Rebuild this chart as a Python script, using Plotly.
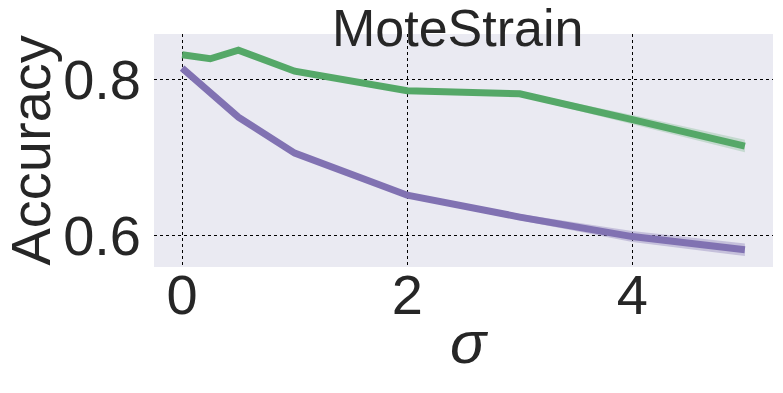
import plotly.graph_objects as go

sigma = [0, 0.25, 0.5, 1, 2, 3, 4, 5]
acc_green = [0.831, 0.826, 0.837, 0.810, 0.785, 0.781, 0.748, 0.714]
std_green = [0.002, 0.002, 0.002, 0.002, 0.002, 0.003, 0.006, 0.008]
acc_purple = [0.814, 0.782, 0.751, 0.705, 0.651, 0.623, 0.598, 0.581]
std_purple = [0.002, 0.002, 0.002, 0.002, 0.003, 0.004, 0.007, 0.008]

font = "Liberation Sans, Arial, sans-serif"


def band(x, y, s, color):
    upper = [a + b for a, b in zip(y, s)]
    lower = [a - b for a, b in zip(y, s)]
    return go.Scatter(x=x + x[::-1], y=upper + lower[::-1], fill="toself",
                      fillcolor=color, line=dict(width=0), mode="lines",
                      hoverinfo="skip", showlegend=False)


fig = go.Figure()
fig.add_trace(band(sigma, acc_green, std_green, "rgba(85,168,104,0.25)"))
fig.add_trace(band(sigma, acc_purple, std_purple, "rgba(129,114,178,0.35)"))
fig.add_trace(go.Scatter(x=sigma, y=acc_green, mode="lines",
                         line=dict(color="#55A868", width=7), showlegend=False))
fig.add_trace(go.Scatter(x=sigma, y=acc_purple, mode="lines",
                         line=dict(color="#8172B2", width=7), showlegend=False))

# page body keeps an 8px margin, so the figure is 8px smaller than the window
fig.update_layout(
    width=775, height=385,
    margin=dict(l=146, r=10, t=26, b=126),
    paper_bgcolor="white",
    plot_bgcolor="#EAEAF2",
    font=dict(family=font, color="#262626", size=54),
    showlegend=False,
    xaxis=dict(range=[-0.25, 5.25], tickvals=[0, 2, 4], showgrid=True,
               gridcolor="black", griddash="dot", gridwidth=1.2, zeroline=False,
               tickfont=dict(size=56), ticklabelstandoff=-10, automargin=False),
    yaxis=dict(range=[0.559, 0.8577], tickvals=[0.6, 0.8], ticktext=["0.6", "0.8"],
               showgrid=True, gridcolor="black", griddash="dot", gridwidth=1.2,
               zeroline=False, tickfont=dict(size=56), ticklabelstandoff=12,
               automargin=False),
    annotations=[
        dict(text="MoteStrain", xref="paper", yref="paper", x=0.49, y=1.0,
             xanchor="center", yanchor="middle", yshift=6, showarrow=False,
             font=dict(size=52, family=font, color="#262626")),
        dict(text="Accuracy", xref="paper", yref="paper", x=0, y=0.5,
             xanchor="center", yanchor="middle", xshift=-124, textangle=-90,
             showarrow=False, font=dict(size=56, family=font, color="#262626")),
        dict(text="<i>σ</i>", xref="paper", yref="paper", x=0.51, y=0,
             xanchor="center", yanchor="middle", yshift=-75, showarrow=False,
             font=dict(size=60, family=font, color="#262626")),
    ],
)

fig.write_html("out.html")
